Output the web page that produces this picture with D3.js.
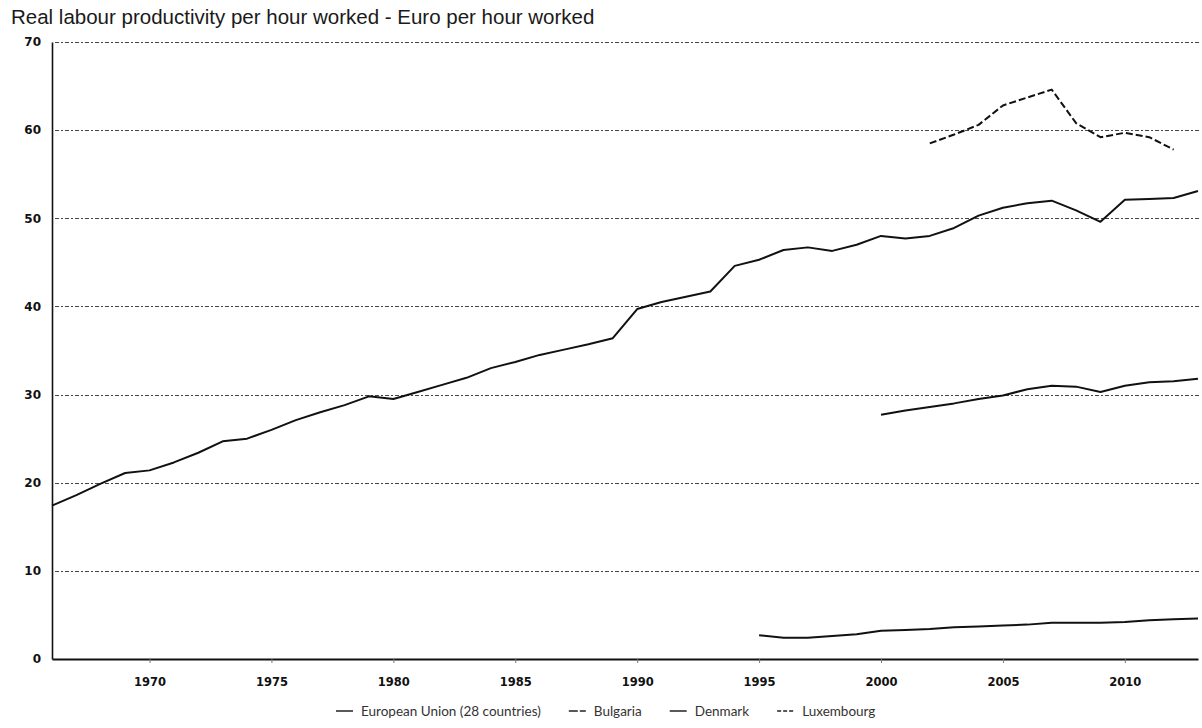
<!DOCTYPE html>
<html>
<head>
<meta charset="utf-8">
<script src="https://cdn.jsdelivr.net/npm/d3@7/dist/d3.min.js"></script>
<style>
  html, body { margin: 0; padding: 0; background: #fff; }
  svg { display: block; }
</style>
</head>
<body>
<div id="chart"></div>
<script>
// values
var titleText = "Real labour productivity per hour worked - Euro per hour worked";

var yTicks = [0, 10, 20, 30, 40, 50, 60, 70];
var xTicks = [1970, 1975, 1980, 1985, 1990, 1995, 2000, 2005, 2010];

var dkYears = [1966, 1967, 1968, 1969, 1970, 1971, 1972, 1973, 1974, 1975,
  1976, 1977, 1978, 1979, 1980, 1981, 1982, 1983, 1984, 1985,
  1986, 1987, 1988, 1989, 1990, 1991, 1992, 1993, 1994, 1995,
  1996, 1997, 1998, 1999, 2000, 2001, 2002, 2003, 2004, 2005,
  2006, 2007, 2008, 2009, 2010, 2011, 2012, 2013];
var dkValues = [17.4, 18.6, 19.9, 21.1, 21.4, 22.3, 23.4, 24.7, 25.0, 26.0,
  27.1, 28.0, 28.8, 29.8, 29.5, 30.3, 31.1, 31.9, 33.0, 33.7,
  34.5, 35.1, 35.7, 36.4, 39.7, 40.5, 41.1, 41.7, 44.6, 45.3,
  46.4, 46.7, 46.3, 47.0, 48.0, 47.7, 48.0, 48.9, 50.3, 51.2,
  51.7, 52.0, 50.9, 49.6, 52.1, 52.2, 52.3, 53.1];

var euYears = [2000, 2001, 2002, 2003, 2004, 2005, 2006, 2007, 2008, 2009, 2010, 2011, 2012, 2013];
var euValues = [27.7, 28.2, 28.6, 29.0, 29.5, 29.9, 30.6, 31.0, 30.9, 30.3, 31.0, 31.4, 31.5, 31.8];

var bgYears = [1995, 1996, 1997, 1998, 1999, 2000, 2001, 2002, 2003, 2004,
  2005, 2006, 2007, 2008, 2009, 2010, 2011, 2012, 2013];
var bgValues = [2.7, 2.4, 2.4, 2.6, 2.8, 3.2, 3.3, 3.4, 3.6, 3.7,
  3.8, 3.9, 4.1, 4.1, 4.1, 4.2, 4.4, 4.5, 4.6];

var luYears = [2002, 2003, 2004, 2005, 2006, 2007, 2008, 2009, 2010, 2011, 2012];
var luValues = [58.5, 59.5, 60.6, 62.8, 63.7, 64.6, 60.8, 59.2, 59.7, 59.2, 57.8];

var legendNames = ["European Union (28 countries)", "Bulgaria", "Denmark", "Luxembourg"];

var width = 1202, height = 728;

var svg = d3.select("#chart").append("svg")
  .attr("width", width)
  .attr("height", height);

var x = d3.scaleLinear().domain([1966, 2013]).range([52, 1198]);
var y = d3.scaleLinear().domain([0, 70]).range([659, 42]);

svg.append("text")
  .attr("x", 11)
  .attr("y", 24)
  .attr("font-family", "'Liberation Sans', Arial, sans-serif")
  .attr("font-size", 20.5)
  .attr("fill", "#1a1a1a")
  .text(titleText);

// dashed grid lines
svg.append("g")
  .selectAll("line")
  .data(yTicks.filter(function(d){ return d > 0; }))
  .join("line")
  .attr("x1", x(1966) + 3)
  .attr("x2", 1201)
  .attr("y1", function(d){ return Math.round(y(d)) + 0.5; })
  .attr("y2", function(d){ return Math.round(y(d)) + 0.5; })
  .attr("stroke", "#444")
  .attr("stroke-width", 1)
  .attr("stroke-dasharray", "4,2,2,2");

var yAxis = svg.append("g")
  .attr("transform", "translate(" + x(1966) + ",0)")
  .call(d3.axisLeft(y).tickValues(yTicks).tickSize(0).tickPadding(11));
yAxis.select(".domain").attr("stroke", "#111").attr("stroke-width", 1.6);
yAxis.selectAll("text")
  .attr("font-family", "'DejaVu Sans', sans-serif")
  .attr("font-weight", "bold")
  .attr("font-size", 12)
  .attr("fill", "#111");

var xAxis = svg.append("g")
  .attr("transform", "translate(0," + y(0) + ")")
  .call(d3.axisBottom(x).tickValues(xTicks).tickFormat(d3.format("d")).tickSize(4).tickPadding(15).tickSizeOuter(0));
xAxis.select(".domain").attr("stroke", "#111").attr("stroke-width", 2);
xAxis.selectAll(".tick line").attr("stroke", "#777");
xAxis.selectAll("text")
  .attr("font-family", "'DejaVu Sans', sans-serif")
  .attr("font-weight", "bold")
  .attr("font-size", 11.5)
  .attr("fill", "#111");

var line = d3.line()
  .x(function(d){ return x(d[0]); })
  .y(function(d){ return y(d[1]); });

var series = [
  {years: dkYears, values: dkValues, dash: null},
  {years: euYears, values: euValues, dash: null},
  {years: bgYears, values: bgValues, dash: null},
  {years: luYears, values: luValues, dash: "7,3"}
];

svg.append("g")
  .selectAll("path")
  .data(series)
  .join("path")
  .attr("d", function(s){ return line(d3.zip(s.years, s.values)); })
  .attr("fill", "none")
  .attr("stroke", "#111")
  .attr("stroke-width", 2)
  .attr("stroke-linejoin", "round")
  .attr("stroke-dasharray", function(s){ return s.dash; });

// legend along the bottom
var legendDash = [null, "9,2", null, "4,2"];
var legend = svg.append("g").attr("transform", "translate(0,711)");
var lx = 336;
legendNames.forEach(function(name, i) {
  legend.append("line")
    .attr("x1", lx).attr("x2", lx + 17)
    .attr("y1", 0).attr("y2", 0)
    .attr("stroke", "#222")
    .attr("stroke-width", 1.5)
    .attr("stroke-dasharray", legendDash[i]);
  var t = legend.append("text")
    .attr("x", lx + 25)
    .attr("y", 4.5)
    .attr("font-family", "Lato, 'Open Sans', sans-serif")
    .attr("font-size", 13.5)
    .attr("fill", "#333")
    .text(name);
  lx += 25 + t.node().getComputedTextLength() + 28;
});
</script>
</body>
</html>
